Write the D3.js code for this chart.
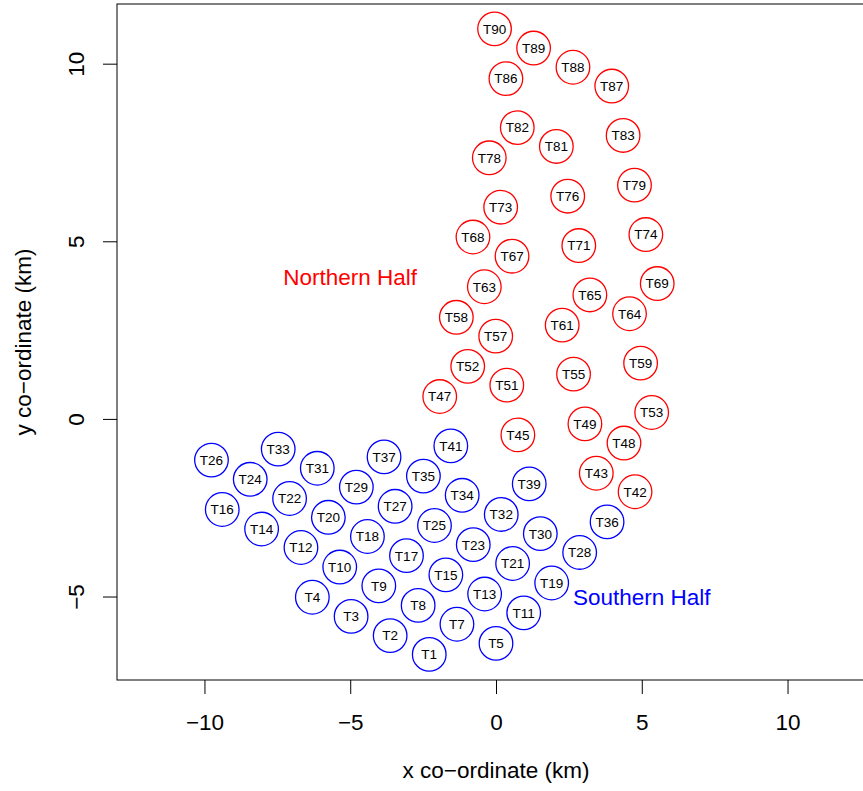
<!DOCTYPE html>
<html>
<head>
<meta charset="utf-8">
<script src="https://cdn.jsdelivr.net/npm/d3@7"></script>
<style>
  html, body { margin: 0; padding: 0; background: #fff; }
  svg { display: block; font-family: "Liberation Sans", Arial, Helvetica, sans-serif; }
</style>
</head>
<body>
<svg id="chart" width="863" height="791"></svg>
<script>
// Turbine layout: identifiers and x/y co-ordinates (km)
const southIds = ["T1","T2","T3","T4","T5","T7","T8","T9","T10","T11","T12","T13","T14","T15","T16","T17","T18","T19","T20","T21","T22","T23","T24","T25","T26","T27","T28","T29","T30","T31","T32","T33","T34","T35","T36","T37","T39","T41"];
const southX = [-2.29,-3.63,-4.97,-6.30,0.00,-1.34,-2.67,-4.02,-5.36,0.95,-6.69,-0.39,-8.04,-1.72,-9.39,-3.07,-4.41,1.91,-5.75,0.57,-7.08,-0.78,-8.43,-2.11,-9.76,-3.46,2.87,-4.79,1.52,-6.13,0.18,-7.47,-1.16,-2.49,3.81,-3.84,1.14,-1.55];
const southY = [-6.63,-6.10,-5.56,-5.02,-6.32,-5.78,-5.25,-4.70,-4.17,-5.46,-3.62,-4.93,-3.10,-4.39,-2.55,-3.85,-3.31,-4.62,-2.77,-4.07,-2.24,-3.54,-1.70,-3.00,-1.16,-2.46,-3.76,-1.92,-3.23,-1.39,-2.69,-0.85,-2.15,-1.61,-2.90,-1.07,-1.83,-0.76];

const northIds = ["T42","T43","T45","T47","T48","T49","T51","T52","T53","T55","T57","T58","T59","T61","T63","T64","T65","T67","T68","T69","T71","T73","T74","T76","T78","T79","T81","T82","T83","T86","T87","T88","T89","T90"];
const northX = [4.77,3.44,0.75,-1.93,4.39,3.05,0.37,-0.97,5.34,2.66,-0.01,-1.36,4.96,2.27,-0.40,4.58,3.22,0.55,-0.79,5.53,2.84,0.16,5.14,2.46,-0.23,4.75,2.07,0.73,4.36,0.34,3.97,2.64,1.29,-0.05];
const northY = [-2.05,-1.53,-0.45,0.63,-0.68,-0.14,0.95,1.48,0.18,1.26,2.33,2.86,1.57,2.64,3.72,2.96,3.49,4.58,5.12,3.81,4.88,5.96,5.19,6.27,7.35,6.58,7.67,8.20,7.98,9.58,9.37,9.90,10.44,10.98];

// Group annotations
const groupNames = ["Northern Half","Southern Half"];
const groupColors = ["#FF0000","#0000FF"];
const groupLabelX = [-5, 5];
const groupLabelY = [4, -5];

// Axis ticks
const xTicks = [-10,-5,0,5,10];
const yTicks = [-5,0,5,10];

const svg = d3.select("#chart");
const plot = {left: 117, right: 875, top: 4, bottom: 680};

const x = d3.scaleLinear().domain([-13, 13]).range([plot.left, plot.right]);
const y = d3.scaleLinear().domain([-7.35, 11.68]).range([plot.bottom, plot.top]);

const fmt = d => (d < 0 ? "\u2212" + Math.abs(d) : String(d));
const axisFont = 22.5;

// Bottom axis
const xAxis = svg.append("g")
  .attr("transform", `translate(0,${plot.bottom})`)
  .call(d3.axisBottom(x).tickValues(xTicks).tickSize(14).tickPadding(0).tickFormat(fmt));
xAxis.select(".domain").remove();
xAxis.selectAll(".tick line").attr("stroke", "#000").attr("stroke-width", 1);
xAxis.selectAll(".tick text")
  .attr("y", 49.5).attr("dy", null)
  .attr("font-size", axisFont).attr("font-family", "Liberation Sans, Arial, sans-serif")
  .attr("fill", "#000");

// Left axis, labels rotated parallel to the axis
const yAxis = svg.append("g")
  .attr("transform", `translate(${plot.left},0)`)
  .call(d3.axisLeft(y).tickValues(yTicks).tickSize(14).tickPadding(0).tickFormat(fmt));
yAxis.select(".domain").remove();
yAxis.selectAll(".tick line").attr("stroke", "#000").attr("stroke-width", 1);
yAxis.selectAll(".tick text")
  .attr("x", null).attr("dy", null)
  .attr("transform", "translate(-33,0) rotate(-90)")
  .attr("text-anchor", "middle")
  .attr("font-size", axisFont).attr("font-family", "Liberation Sans, Arial, sans-serif")
  .attr("fill", "#000");

// Plot frame
svg.append("rect")
  .attr("x", plot.left).attr("y", plot.top)
  .attr("width", plot.right - plot.left).attr("height", plot.bottom - plot.top)
  .attr("fill", "none").attr("stroke", "#000").attr("stroke-width", 1);

// Axis titles
svg.append("text")
  .attr("x", (plot.left + plot.right) / 2).attr("y", 777.5)
  .attr("text-anchor", "middle").attr("font-size", axisFont)
  .text("x co\u2212ordinate (km)");
svg.append("text")
  .attr("transform", `translate(31,${(plot.top + plot.bottom) / 2}) rotate(-90)`)
  .attr("text-anchor", "middle").attr("font-size", axisFont)
  .text("y co\u2212ordinate (km)");

// Turbines
function drawTurbines(ids, xs, ys, color) {
  const data = ids.map((id, i) => ({id, x: xs[i], y: ys[i]}));
  const g = svg.append("g");
  const t = g.selectAll("g").data(data).join("g")
    .attr("transform", d => `translate(${x(d.x)},${y(d.y)})`);
  t.append("circle").attr("r", 16.8)
    .attr("fill", "none").attr("stroke", color).attr("stroke-width", 1.3);
  t.append("text")
    .attr("text-anchor", "middle").attr("dy", "0.36em")
    .attr("font-size", 13.5).attr("fill", "#000")
    .text(d => d.id);
}
drawTurbines(northIds, northX, northY, groupColors[0]);
drawTurbines(southIds, southX, southY, groupColors[1]);

// Group labels
svg.append("g").selectAll("text").data(groupNames).join("text")
  .attr("x", (d, i) => x(groupLabelX[i]))
  .attr("y", (d, i) => y(groupLabelY[i]))
  .attr("dy", "0.36em")
  .attr("text-anchor", "middle")
  .attr("font-size", axisFont)
  .attr("fill", (d, i) => groupColors[i])
  .text(d => d);
</script>
</body>
</html>
